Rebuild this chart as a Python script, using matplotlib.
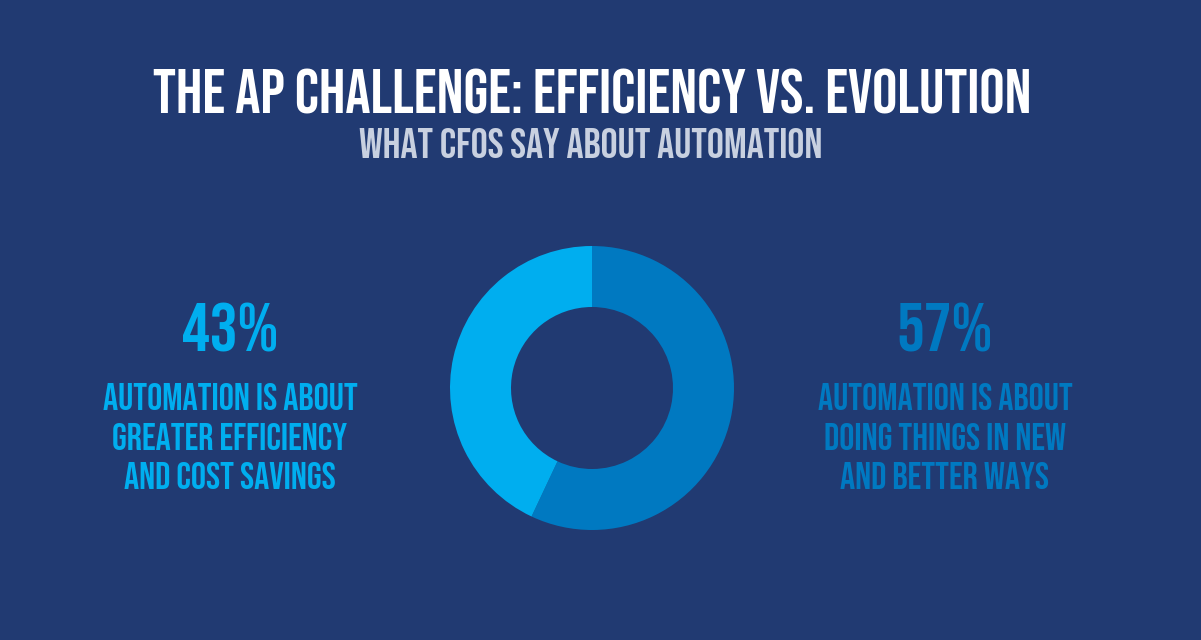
import matplotlib
matplotlib.use("Agg")
import matplotlib.pyplot as plt

# Data
labels = ["Doing things in new and better ways", "Greater efficiency and cost savings"]
values = [57, 43]
colors = ["#0079c1", "#00aeef"]
title = "THE AP CHALLENGE: EFFICIENCY VS. EVOLUTION"
subtitle = "WHAT CFOS SAY ABOUT AUTOMATION"
left_pct = "43%"
left_lines = ["AUTOMATION IS ABOUT", "GREATER EFFICIENCY", "AND COST SAVINGS"]
right_pct = "57%"
right_lines = ["AUTOMATION IS ABOUT", "DOING THINGS IN NEW", "AND BETTER WAYS"]

BG = "#213a72"
W, H = 1201, 640
fig = plt.figure(figsize=(W / 100, H / 100), dpi=100, facecolor=BG)
ax = fig.add_axes([0, 0, 1, 1])
ax.set_facecolor(BG)

ax.pie(values, colors=colors, startangle=90, counterclock=False,
       center=(592, H - 388), radius=142,
       wedgeprops=dict(width=61, edgecolor="none"))
ax.set_xlim(0, W)
ax.set_ylim(0, H)
ax.set_aspect("equal")
ax.axis("off")

FONT = ["Bebas Neue", "DejaVu Sans"]

def txt(x, y, s, size, color):
    ax.text(x, H - y, s, fontsize=size, color=color, ha="center", va="baseline",
            family=FONT)

txt(592, 113, title, 45.2, "white")
txt(591, 158, subtitle, 30.6, "#c8d0e0")

txt(230, 352, left_pct, 50, colors[1])
for i, line in enumerate(left_lines):
    txt(230, 410 + i * 39.5, line, 27.2, colors[1])

txt(945, 352, right_pct, 50, colors[0])
for i, line in enumerate(right_lines):
    txt(945, 410 + i * 39.5, line, 27.2, colors[0])

fig.savefig("out.png", dpi=100, facecolor=BG)
